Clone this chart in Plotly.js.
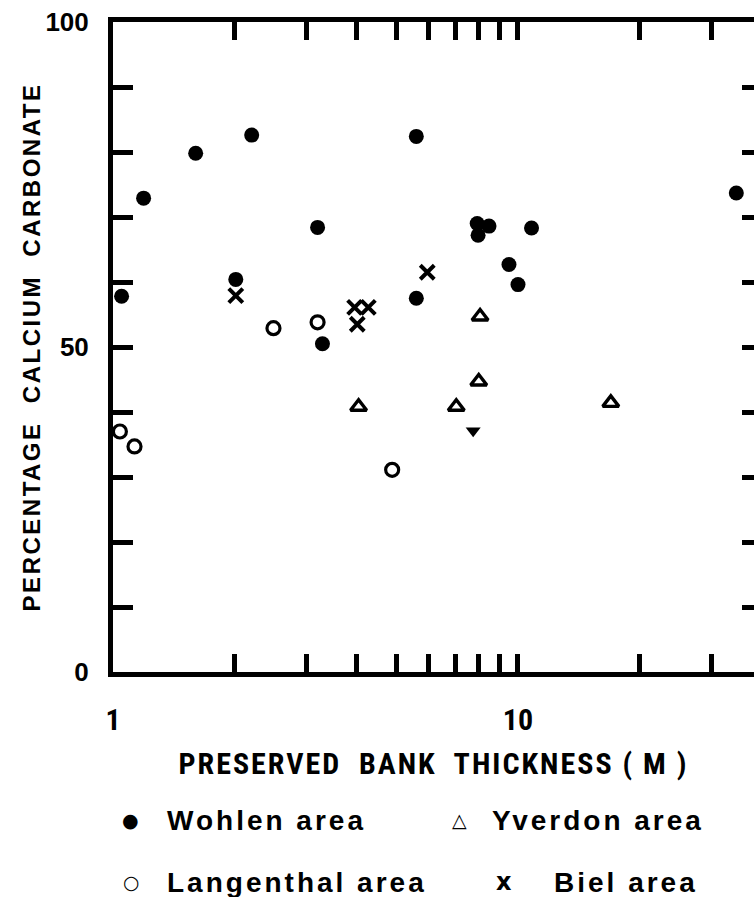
<!DOCTYPE html>
<html>
<head>
<meta charset="utf-8">
<script src="https://cdn.plot.ly/plotly-3.0.1.min.js"></script>
<style>
html,body{margin:0;padding:0;background:#fff;overflow:hidden;}
#chart{width:754px;height:897px;}
.ytitle{letter-spacing:2.5px;}
.xtitle{letter-spacing:2px;}
.annotation-text{letter-spacing:3px;}
</style>
</head>
<body>
<div id="chart"></div>
<script>
// ---- data ----
const wohlenX = [1.05, 1.19, 1.60, 2.20, 2.01, 3.20, 3.29, 5.61, 5.61, 7.93, 8.48, 7.97, 10.8, 9.5, 10.0, 34.6];
const wohlenY = [57.8, 72.9, 79.8, 82.6, 60.4, 68.4, 50.5, 82.4, 57.5, 69.0, 68.6, 67.2, 68.3, 62.7, 59.6, 73.7];
const langenthalX = [1.04, 1.13, 2.49, 3.20, 4.89];
const langenthalY = [37.0, 34.7, 52.9, 53.8, 31.1];
const yverdonX = [4.04, 7.04, 8.06, 8.0, 16.95];
const yverdonY = [40.8, 40.8, 54.7, 44.7, 41.4];
const bielX = [2.01, 3.95, 4.27, 4.01, 5.97];
const bielY = [57.9, 56.1, 56.1, 53.5, 61.5];
const otherX = [7.75];
const otherY = [37.1];

const xTickVals = [1,2,3,4,5,6,7,8,9,10,20,30];
const xTickText = ['1','','','','','','','','','10','',''];
const yTickVals = [0,10,20,30,40,50,60,70,80,90,100];
const yTickText = ['0','','','','','50','','','','','100'];

const legendRow1 = [['●','Wohlen area'],['△','Yverdon area']];
const legendRow2 = [['○','Langenthal area'],['x','Biel area']];

const narrow = '"Roboto Condensed", "Liberation Sans Narrow", "DejaVu Sans Condensed", "Arial Narrow", sans-serif';
const wide = '"Liberation Sans", Arial, sans-serif';

const traces = [
  {x: wohlenX, y: wohlenY, name: 'Wohlen area', type: 'scatter', mode: 'markers',
   marker: {symbol: 'circle', size: 15, color: '#000'}},
  {x: langenthalX, y: langenthalY, name: 'Langenthal area', type: 'scatter', mode: 'markers',
   marker: {symbol: 'circle-open', size: 13, color: '#000', line: {width: 3.2, color: '#000'}}},
  {x: yverdonX, y: yverdonY, name: 'Yverdon area', type: 'scatter', mode: 'markers',
   marker: {symbol: 'triangle-up-open', size: 14, color: '#000', line: {width: 3.4, color: '#000'}}},
  {x: bielX, y: bielY, name: 'Biel area', type: 'scatter', mode: 'markers',
   marker: {symbol: 'x-thin-open', size: 14, color: '#000', line: {width: 4, color: '#000'}}},
  {x: otherX, y: otherY, name: 'other', type: 'scatter', mode: 'markers',
   marker: {symbol: 'triangle-down', size: 13, color: '#000'}},
  {x: [], y: [], yaxis: 'y2', type: 'scatter', mode: 'markers', showlegend: false, hoverinfo: 'skip'}
];

const L = 113, T = 22, PH = 650, PW = 641;
const px2paperX = p => (p - L) / PW;
const px2paperY = p => (T + PH - p) / PH;

const annotations = [];
function addRow(row, py, symX, txtX) {
  row.forEach((it, i) => {
    annotations.push({text: it[0], xref: 'paper', yref: 'paper', x: px2paperX(symX[i]), y: px2paperY(py),
      xanchor: 'center', yanchor: 'middle', showarrow: false,
      font: {family: '"DejaVu Sans", sans-serif', size: it[0] === 'x' ? 24 : 19, color: '#000', weight: 'bold'}});
    annotations.push({text: it[1], xref: 'paper', yref: 'paper', x: px2paperX(txtX[i]), y: px2paperY(py),
      xanchor: 'left', yanchor: 'middle', showarrow: false,
      font: {family: wide, size: 28, color: '#000', weight: 'bold'}});
  });
}
addRow(legendRow1, 820, [132, 461], [165, 490]);
addRow(legendRow2, 882, [133, 505], [165, 552]);

const layout = {
  width: 754, height: 897,
  margin: {l: L, r: 0, t: T, b: 897 - T - PH, pad: 0},
  paper_bgcolor: '#fff', plot_bgcolor: '#fff',
  showlegend: false,
  xaxis: {
    type: 'log', range: [0, Math.log10(38.26)], autorange: false,
    tickmode: 'array', tickvals: xTickVals, ticktext: xTickText,
    ticks: 'inside', ticklen: 18, tickwidth: 5, tickcolor: '#000',
    showline: true, linewidth: 5, linecolor: '#000', mirror: 'ticks',
    showgrid: false, zeroline: false, automargin: false,
    ticklabelstandoff: 17,
    tickfont: {family: narrow, size: 30, color: '#000', weight: 'bold'},
    title: {text: 'PRESERVED  BANK  THICKNESS ( M )', standoff: 18,
            font: {family: narrow, size: 30, color: '#000', weight: 'bold'}}
  },
  yaxis: {
    range: [0, 100], autorange: false,
    tickmode: 'array', tickvals: yTickVals, ticktext: yTickText,
    ticks: 'inside', ticklen: 20, tickwidth: 5, tickcolor: '#000',
    showline: true, linewidth: 5, linecolor: '#000', mirror: false,
    showgrid: false, zeroline: false, automargin: false,
    ticklabelstandoff: 14,
    tickfont: {family: wide, size: 26, color: '#000', weight: 'bold'},
    title: {text: 'PERCENTAGE  CALCIUM  CARBONATE', standoff: 0,
            font: {family: wide, size: 24, color: '#000', weight: 'bold'}}
  },
  yaxis2: {
    overlaying: 'y', side: 'right', range: [0, 100], autorange: false,
    tickmode: 'array', tickvals: yTickVals, showticklabels: false,
    ticks: 'inside', ticklen: 12, tickwidth: 5, tickcolor: '#000',
    showline: false, showgrid: false, zeroline: false, automargin: false
  },
  annotations: annotations
};

Plotly.newPlot('chart', traces, layout, {displayModeBar: false, staticPlot: true});
</script>
</body>
</html>
